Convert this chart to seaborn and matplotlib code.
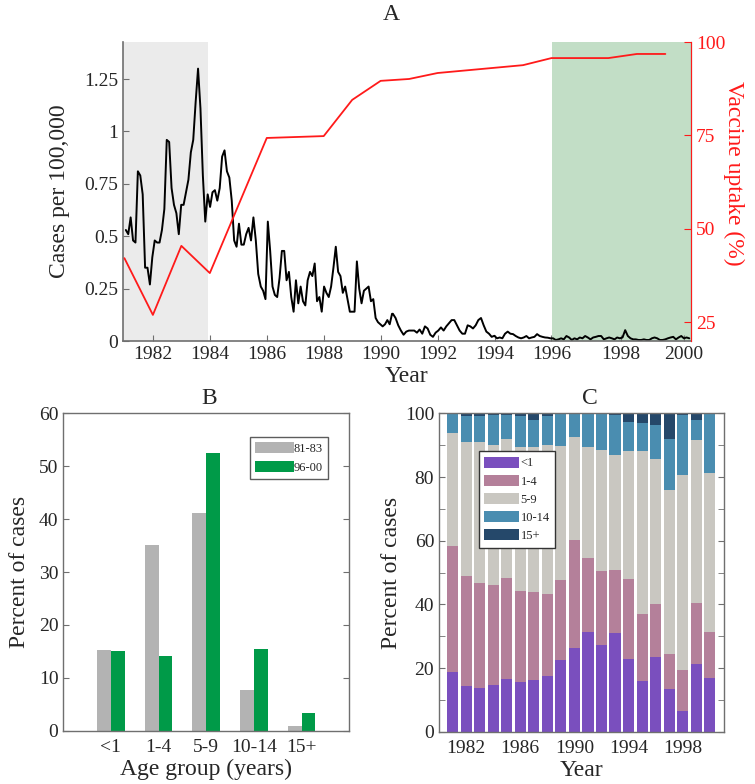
import numpy as np
import pandas as pd
import seaborn as sns
import matplotlib.pyplot as plt
from matplotlib.patches import Patch
from matplotlib.ticker import MultipleLocator

# ---- panel A: monthly cases per 100,000 (three stretches)
rate_81_85 = [0.53, 0.51, 0.59, 0.48, 0.47, 0.81, 0.79, 0.70, 0.35, 0.35,
              0.27, 0.40, 0.48, 0.47, 0.47, 0.53, 0.63, 0.96, 0.95, 0.73,
              0.65, 0.61, 0.51, 0.65, 0.65, 0.71, 0.77, 0.90, 0.96, 1.14,
              1.30, 1.11, 0.79, 0.57, 0.70, 0.64, 0.71, 0.72, 0.67, 0.73,
              0.88, 0.91, 0.81, 0.78, 0.67, 0.48, 0.45, 0.56, 0.46, 0.46,
              0.51, 0.54, 0.48, 0.59, 0.48, 0.32]
rate_85_90 = [0.26, 0.24, 0.20, 0.57, 0.43, 0.26, 0.22, 0.21, 0.30, 0.43,
              0.43, 0.29, 0.33, 0.21, 0.14, 0.29, 0.18, 0.26, 0.19, 0.17,
              0.29, 0.33, 0.31, 0.37, 0.19, 0.21, 0.14, 0.26, 0.23, 0.21,
              0.26, 0.35, 0.45, 0.33, 0.31, 0.23, 0.26, 0.20, 0.14, 0.14,
              0.14, 0.38, 0.25, 0.18, 0.24, 0.25, 0.26, 0.19, 0.20, 0.11,
              0.09, 0.08, 0.07, 0.08, 0.10, 0.08, 0.13]
rate_90_00 = [0.13, 0.11, 0.075, 0.05, 0.03, 0.045, 0.05, 0.05, 0.05, 0.04,
              0.055, 0.035, 0.07, 0.06, 0.03, 0.02, 0.04, 0.05, 0.065, 0.05,
              0.07, 0.085, 0.10, 0.10, 0.075, 0.05, 0.035, 0.035, 0.075, 0.07,
              0.06, 0.075, 0.10, 0.11, 0.075, 0.045, 0.035, 0.02, 0.025, 0.013,
              0.017, 0.013, 0.035, 0.045, 0.035, 0.033, 0.024, 0.017, 0.013, 0.017,
              0.024, 0.013, 0.017, 0.02, 0.033, 0.024, 0.02, 0.017, 0.016, 0.013,
              0.013, 0.005, 0.008, 0.013, 0.008, 0.024, 0.017, 0.005, 0.013, 0.008,
              0.017, 0.013, 0.024, 0.017, 0.008, 0.017, 0.02, 0.024, 0.024, 0.008,
              0.013, 0.017, 0.013, 0.008, 0.017, 0.013, 0.017, 0.052, 0.024, 0.013,
              0.008, 0.008, 0.005, 0.005, 0.008, 0.005, 0.005, 0.013, 0.017, 0.013,
              0.005, 0.005, 0.008, 0.013, 0.017, 0.02, 0.008, 0.017, 0.024, 0.013,
              0.017, 0.013]
spans = [(1981.05, 1985.70), (1985.79, 1990.40), (1990.43, 2000.84)]

vacc_years = [1981, 1982, 1983, 1984, 1986, 1988, 1989, 1990, 1991, 1992,
              1995, 1996, 1998, 1999, 2000]
vacc_uptake = [42.1, 26.9, 45.4, 38.1, 74.3, 74.8, 84.5, 89.6, 90.1, 91.7,
               93.8, 95.7, 95.7, 96.8, 96.8]

# ---- panel B: age distribution in two periods
age_groups = ['<1', '1-4', '5-9', '10-14', '15+']
pct_81_83 = [15.3, 35.1, 41.2, 7.6, 0.9]
pct_96_00 = [15.1, 14.2, 52.5, 15.4, 3.3]

# ---- panel C: yearly share by age group
years_c = list(range(1981, 2001))
share_lt1 = [18.7, 14.2, 13.7, 14.7, 16.5, 15.6, 16.2, 17.6, 22.5, 26.4,
             31.2, 27.1, 30.9, 22.7, 15.9, 23.4, 13.5, 6.4, 21.3, 16.8]
share_1_4 = [39.6, 34.6, 33.0, 31.3, 31.7, 28.7, 27.6, 25.8, 25.1, 33.8,
             23.4, 23.4, 19.9, 25.3, 21.2, 16.7, 10.9, 13.1, 19.0, 14.4]
share_5_9 = [35.4, 42.1, 44.2, 44.1, 43.7, 45.2, 45.6, 46.7, 42.2, 32.5,
             34.9, 38.0, 36.1, 40.2, 51.1, 45.7, 51.4, 61.0, 51.2, 50.2]
share_10_14 = [6.0, 8.4, 8.3, 9.3, 7.5, 9.8, 8.4, 9.2, 9.9, 7.3,
               10.5, 11.5, 12.5, 9.2, 8.9, 10.5, 16.1, 18.9, 6.4, 18.6]
share_15p = [0.3, 0.7, 0.8, 0.6, 0.6, 0.7, 2.2, 0.7, 0.3, 0.0,
             0.0, 0.0, 0.6, 2.6, 2.9, 3.7, 8.1, 0.6, 2.1, 0.0]
c_colors = ['#7A4FBE', '#B4809A', '#C9C7C1', '#4A8DB0', '#25486A']

sns.set_style('ticks')
plt.rcParams['font.family'] = ['Liberation Serif', 'DejaVu Serif']
TICK = 14
LAB = 17
spine_col = '#6f6f6f'

fig = plt.figure(figsize=(7.55, 7.84), dpi=100)
axA = fig.add_axes([0.1629, 0.565, 0.7523, 0.3814])
axB = fig.add_axes([0.0838, 0.068, 0.3788, 0.4048])
axC = fig.add_axes([0.5815, 0.0667, 0.3775, 0.4061])

# ================= A =================
parts = []
for vals, (y0, y1) in zip([rate_81_85, rate_85_90, rate_90_00], spans):
    parts.append(pd.DataFrame({'year': np.linspace(y0, y1, len(vals)), 'rate': vals}))
dfA = pd.concat(parts, ignore_index=True)

axA.axvspan(1980.95, 1983.93, color='#EBEBEB', lw=0, zorder=0)
axA.axvspan(1996.02, 2000.9, color='#C2DEC6', lw=0, zorder=0)
sns.lineplot(data=dfA, x='year', y='rate', color='black', lw=1.4, ax=axA)
axA.set_xlim(1980.95, 2000.9)
axA.set_ylim(0, 1.427)
axA.set_yticks([0, 0.25, 0.5, 0.75, 1, 1.25])
axA.set_yticklabels(['0', '0.25', '0.5', '0.75', '1', '1.25'])
axA.set_xticks([1982, 1984, 1986, 1988, 1990, 1992, 1994, 1996, 1998.45, 2000.65])
axA.set_xticklabels([str(y) for y in range(1982, 2001, 2)])
axA.set_xlabel('Year', fontsize=LAB, labelpad=2)
axA.set_ylabel('Cases per 100,000', fontsize=LAB, labelpad=10)
axA.tick_params(labelsize=TICK, direction='in', length=4, color=spine_col)
axA.spines['top'].set_visible(False)
for s in ['left', 'bottom']:
    axA.spines[s].set_color(spine_col)
    axA.spines[s].set_linewidth(1.2)

axR = axA.twinx()
dfV = pd.DataFrame({'year': vacc_years, 'uptake': vacc_uptake})
sns.lineplot(data=dfV, x='year', y='uptake', color='#FF1A1A', lw=1.3, ax=axR)
axR.set_ylim(19.9, 100)
axR.set_yticks([25, 50, 75, 100])
axR.set_ylabel('Vaccine uptake (%)', fontsize=LAB, color='#FF1A1A', rotation=-90, labelpad=14)
axR.yaxis.label.set_y(0.56)
axR.tick_params(axis='y', labelsize=TICK, colors='#FF1A1A', direction='in', length=5)
for s in ['top', 'left', 'bottom']:
    axR.spines[s].set_visible(False)
axR.spines['right'].set_color('#FF1A1A')
axR.set_xlim(1980.95, 2000.9)
fig.text(391 / 755, 1 - 14 / 784, 'A', ha='center', va='center', fontsize=LAB)

# ================= B =================
dfB = pd.DataFrame({'age': age_groups * 2,
                    'period': ['81-83'] * 5 + ['96-00'] * 5,
                    'pct': pct_81_83 + pct_96_00})
sns.barplot(data=dfB, x='age', y='pct', hue='period', palette=['#B3B3B3', '#009A48'],
            width=0.58, saturation=1, ax=axB, linewidth=0)
axB.set_xlim(-1, 5)
axB.set_ylim(0, 60)
axB.set_yticks(range(0, 61, 10))
axB.set_xlabel('Age group (years)', fontsize=LAB, labelpad=2)
axB.set_ylabel('Percent of cases', fontsize=LAB, labelpad=6)
axB.tick_params(labelsize=TICK, direction='in', color=spine_col, right=True, length=4)
axB.tick_params(axis='x', length=0, pad=6)
for s in axB.spines.values():
    s.set_color(spine_col)
    s.set_linewidth(1.0)
axB.legend(loc='upper right', bbox_to_anchor=(0.925, 0.925), fontsize=9, frameon=True,
           fancybox=False, edgecolor='#333333', handlelength=3.1, handleheight=1.0,
           handletextpad=0.0, labelspacing=0.45, borderpad=0.4, borderaxespad=0)
fig.text(209 / 755, 1 - 398 / 784, 'B', ha='center', va='center', fontsize=LAB)

# ================= C =================
layers = np.array([share_lt1, share_1_4, share_5_9, share_10_14, share_15p])
cum = np.cumsum(layers, axis=0)
cum = cum / cum[-1] * 100
for k in range(4, -1, -1):
    sns.barplot(x=years_c, y=cum[k], color=c_colors[k], native_scale=True,
                width=0.82, saturation=1, linewidth=0, ax=axC)
axC.set_xlim(1980, 2001.05)
axC.set_ylim(0, 100)
axC.set_yticks(range(0, 101, 20))
axC.yaxis.set_minor_locator(MultipleLocator(10))
axC.set_xticks([1982, 1986, 1990, 1994, 1998])
axC.set_xticklabels(['1982', '1986', '1990', '1994', '1998'])
axC.set_xlabel('Year', fontsize=LAB, labelpad=2)
axC.set_ylabel('Percent of cases', fontsize=LAB, labelpad=2)
axC.tick_params(labelsize=TICK, direction='in', color=spine_col, right=True, length=4)
axC.tick_params(axis='y', which='minor', direction='in', color=spine_col, right=True, length=4)
axC.tick_params(axis='x', length=0, pad=6)
for s in axC.spines.values():
    s.set_color(spine_col)
    s.set_linewidth(1.0)
handles = [Patch(facecolor=c, edgecolor='none', label=l) for c, l in zip(c_colors, age_groups)]
axC.legend(handles=handles, loc='upper left', bbox_to_anchor=(0.139, 0.882), fontsize=9,
           frameon=True, fancybox=False, framealpha=1, edgecolor='#333333',
           handlelength=2.8, handleheight=1.0, handletextpad=0.1, labelspacing=0.42,
           borderpad=0.45, borderaxespad=0)
fig.text(590 / 755, 1 - 398 / 784, 'C', ha='center', va='center', fontsize=LAB)

fig.savefig('out.png', dpi=100)
